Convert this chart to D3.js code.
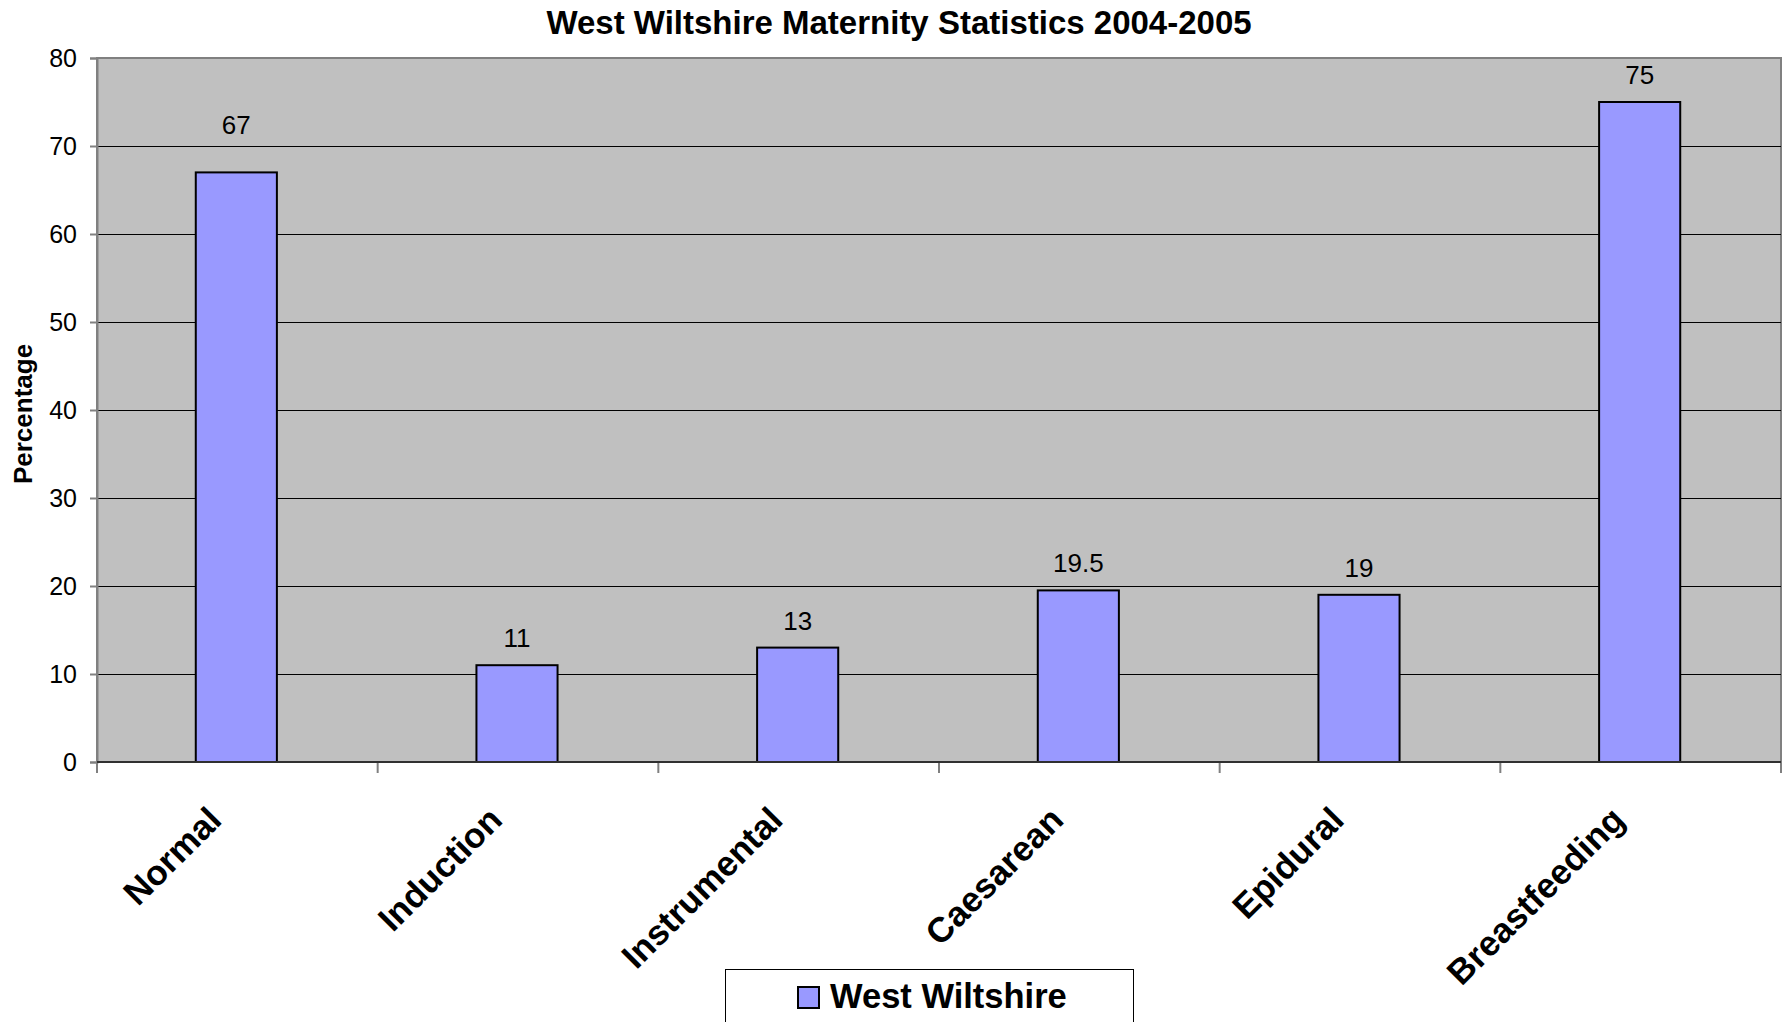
<!DOCTYPE html>
<html>
<head>
<meta charset="utf-8">
<script src="https://cdn.jsdelivr.net/npm/d3@7"></script>
<style>
  html, body { margin: 0; padding: 0; background: #ffffff; }
  svg { display: block; font-family: "Liberation Sans", Arial, sans-serif; }
</style>
</head>
<body>
<div id="chart"></div>
<script>
const TITLE = "West Wiltshire Maternity Statistics 2004-2005";
const categories = ["Normal", "Induction", "Instrumental", "Caesarean", "Epidural", "Breastfeeding"];
const values = [67, 11, 13, 19.5, 19, 75];
const yTicks = [0, 10, 20, 30, 40, 50, 60, 70, 80];
const seriesName = "West Wiltshire";

const W = 1784, H = 1022;
const PLOT = { left: 97, right: 1781, top: 58, bottom: 762 };

const svg = d3.select("#chart")
    .append("svg")
    .attr("width", W)
    .attr("height", H);

const x = d3.scaleBand()
    .domain(categories)
    .range([PLOT.left, PLOT.right])
    .paddingInner(0.711)
    .paddingOuter(0.3555);
const xCell = d3.scaleBand().domain(categories).range([PLOT.left, PLOT.right]).padding(0);
const y = d3.scaleLinear().domain([0, 80]).range([PLOT.bottom, PLOT.top]);

// plot background
svg.append("rect")
    .attr("x", PLOT.left)
    .attr("y", PLOT.top)
    .attr("width", PLOT.right - PLOT.left)
    .attr("height", PLOT.bottom - PLOT.top)
    .attr("fill", "#c0c0c0")
    .attr("stroke", "#808080")
    .attr("stroke-width", 2);

// gridlines
svg.append("g")
    .selectAll("line")
    .data(yTicks.filter((d) => d > 0 && d < 80))
    .join("line")
    .attr("x1", PLOT.left)
    .attr("x2", PLOT.right)
    .attr("y1", (d) => Math.round(y(d)) + 0.5)
    .attr("y2", (d) => Math.round(y(d)) + 0.5)
    .attr("stroke", "#000")
    .attr("stroke-width", 1);

// y axis
const yAxisG = svg.append("g")
    .attr("transform", `translate(${PLOT.left},0)`)
    .call(d3.axisLeft(y).tickValues(yTicks).tickSize(7).tickPadding(13));
yAxisG.select(".domain").attr("stroke", "#808080").attr("stroke-width", 2);
yAxisG.selectAll(".tick line").attr("stroke", "#808080").attr("stroke-width", 2);
yAxisG.selectAll(".tick text")
    .attr("font-size", 25)
    .attr("font-family", "Liberation Sans, Arial, sans-serif")
    .attr("fill", "#000");

// x axis boundary ticks
const boundaries = categories.map((c) => xCell(c)).concat([PLOT.right]);
svg.append("g")
    .selectAll("line")
    .data(boundaries)
    .join("line")
    .attr("x1", (d) => d)
    .attr("x2", (d) => d)
    .attr("y1", PLOT.bottom)
    .attr("y2", PLOT.bottom + 11)
    .attr("stroke", "#808080")
    .attr("stroke-width", 2);

// bars
svg.append("g")
    .selectAll("rect")
    .data(categories)
    .join("rect")
    .attr("x", (d) => x(d) - 1)
    .attr("y", (d, i) => y(values[i]))
    .attr("width", x.bandwidth())
    .attr("height", (d, i) => y(0) - y(values[i]))
    .attr("fill", "#9999ff")
    .attr("stroke", "#000")
    .attr("stroke-width", 2);

// bottom axis line
svg.append("line")
    .attr("x1", PLOT.left)
    .attr("x2", PLOT.right)
    .attr("y1", PLOT.bottom)
    .attr("y2", PLOT.bottom)
    .attr("stroke", "#303030")
    .attr("stroke-width", 2);

// value labels (the label of the first bar sits higher, clear of the 70 gridline)
svg.append("g")
    .selectAll("text")
    .data(categories)
    .join("text")
    .attr("x", (d) => x(d) - 1 + x.bandwidth() / 2)
    .attr("y", (d, i) => y(values[i]) - (d === "Normal" ? 38 : 18))
    .attr("text-anchor", "middle")
    .attr("font-size", 26)
    .attr("fill", "#000")
    .text((d, i) => values[i]);

// category labels
svg.append("g")
    .selectAll("text")
    .data(categories)
    .join("text")
    .attr("transform", (d) => `translate(${xCell(d) + xCell.bandwidth() / 2 - 14},${PLOT.bottom + 60}) rotate(-45)`)
    .attr("text-anchor", "end")
    .attr("font-size", 35)
    .attr("font-weight", "bold")
    .attr("fill", "#000")
    .text((d) => d);

// title
svg.append("text")
    .attr("x", 899)
    .attr("y", 34)
    .attr("text-anchor", "middle")
    .attr("font-size", 33)
    .attr("font-weight", "bold")
    .text(TITLE);

// y axis title
svg.append("text")
    .attr("transform", `translate(32,414) rotate(-90)`)
    .attr("text-anchor", "middle")
    .attr("font-size", 26)
    .attr("font-weight", "bold")
    .text("Percentage");

// legend
const legend = svg.append("g");
legend.append("rect")
    .attr("x", 725.5)
    .attr("y", 969.5)
    .attr("width", 408)
    .attr("height", 80)
    .attr("fill", "#fff")
    .attr("stroke", "#000")
    .attr("stroke-width", 1);
legend.append("rect")
    .attr("x", 798)
    .attr("y", 987)
    .attr("width", 21)
    .attr("height", 21)
    .attr("fill", "#9999ff")
    .attr("stroke", "#000")
    .attr("stroke-width", 2);
legend.append("text")
    .attr("x", 830)
    .attr("y", 1008)
    .attr("font-size", 34.5)
    .attr("font-weight", "bold")
    .text(seriesName);
</script>
</body>
</html>
